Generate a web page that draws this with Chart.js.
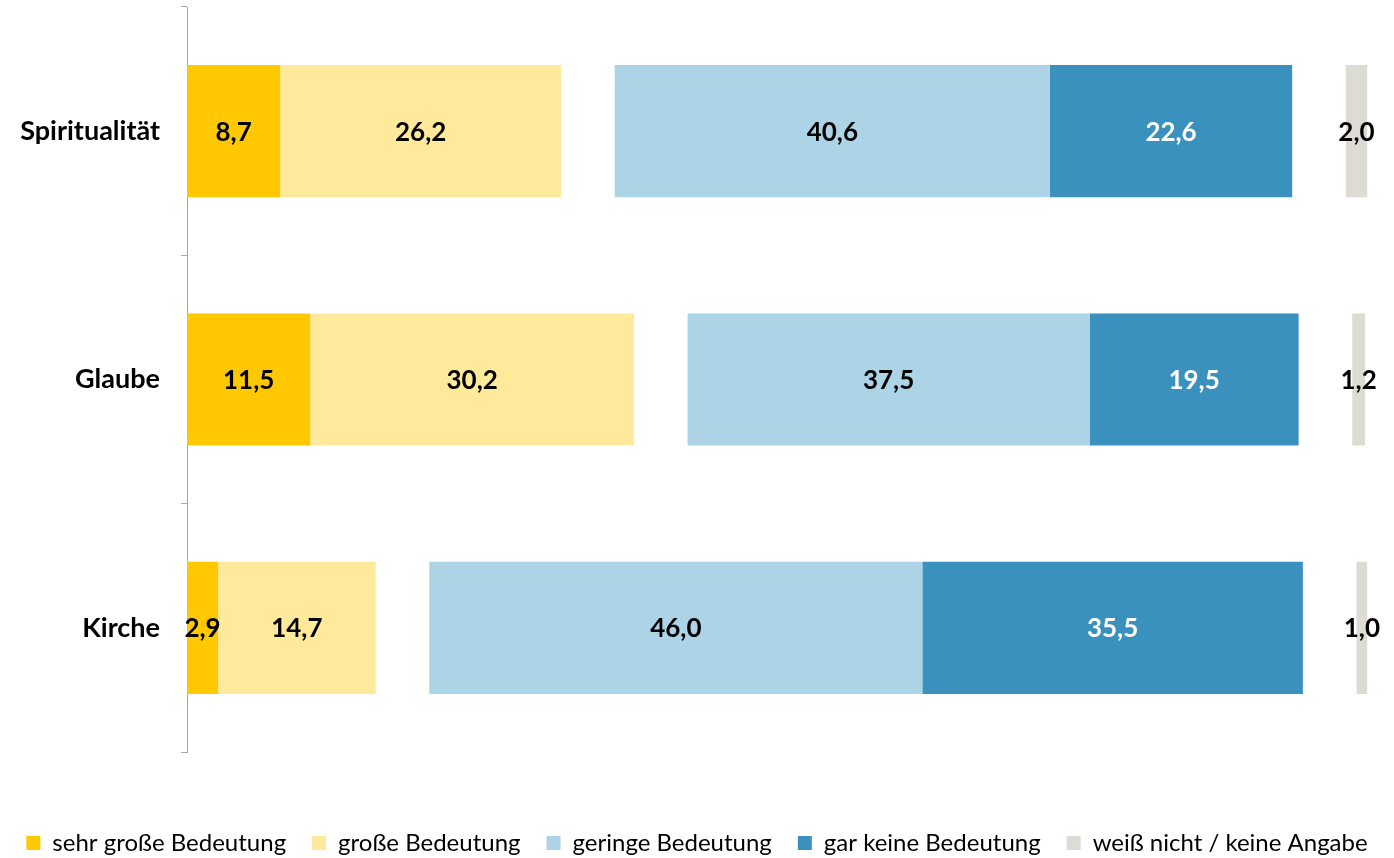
<!DOCTYPE html>
<html lang="de">
<head>
<meta charset="UTF-8">
<title>Bedeutung</title>
<style>
  html, body { margin: 0; padding: 0; background: #fff; }
</style>
</head>
<body>
<canvas id="chart" width="1394" height="858"></canvas>
<script src="https://cdn.jsdelivr.net/npm/chart.js"></script>
<script>
const categories = ['Spiritualität', 'Glaube', 'Kirche'];
const sehrGross = [8.7, 11.5, 2.9];
const gross = [26.2, 30.2, 14.7];
const gap = [5, 5, 5];
const gering = [40.6, 37.5, 46.0];
const garKeine = [22.6, 19.5, 35.5];
const weissNicht = [2.0, 1.2, 1.0];

const FONT = 'Lato, "Noto Sans", sans-serif';

// draws the values in the middle of each bar
const barLabels = {
  id: 'barLabels',
  afterDatasetsDraw(chart) {
    const c = chart.ctx;
    c.save();
    c.font = 'bold 26px ' + FONT;
    c.textAlign = 'center';
    c.textBaseline = 'middle';
    chart.data.datasets.forEach((ds, i) => {
      if (!ds.label) return;
      chart.getDatasetMeta(i).data.forEach((bar, j) => {
        c.fillStyle = ds.labelColor;
        c.fillText(ds.data[j].toFixed(1).replace('.', ','), (bar.x + bar.base) / 2, bar.y + 1);
      });
    });
    c.restore();
  }
};

// fixed legend height so it sits at the bottom
const legendHeight = {
  id: 'legendHeight',
  beforeInit(chart) {
    const fit = chart.legend.fit;
    chart.legend.fit = function () {
      fit.call(this);
      this.height = 53;
    };
  }
};

new Chart(document.getElementById('chart'), {
  type: 'bar',
  data: {
    labels: categories,
    datasets: [
      { label: 'sehr große Bedeutung', data: sehrGross, backgroundColor: '#FFC800', labelColor: '#000' },
      { label: 'große Bedeutung', data: gross, backgroundColor: '#FFE99B', labelColor: '#000' },
      { label: '', data: gap, backgroundColor: 'rgba(0,0,0,0)' },
      { label: 'geringe Bedeutung', data: gering, backgroundColor: '#ACD4E6', labelColor: '#000' },
      { label: 'gar keine Bedeutung', data: garKeine, backgroundColor: '#3A91BD', labelColor: '#fff' },
      { label: '', data: gap, backgroundColor: 'rgba(0,0,0,0)' },
      { label: 'weiß nicht / keine Angabe', data: weissNicht, backgroundColor: '#DEDBD4', labelColor: '#000' }
    ]
  },
  options: {
    indexAxis: 'y',
    responsive: false,
    devicePixelRatio: 1,
    animation: false,
    layout: { padding: { top: 7, left: 0, right: 0, bottom: 0 } },
    datasets: { bar: { categoryPercentage: 1, barPercentage: 0.532, borderWidth: 0 } },
    scales: {
      x: {
        stacked: true,
        min: 0,
        max: 112.6,
        ticks: { display: false },
        grid: { display: false },
        border: { display: false },
        afterFit(scale) { scale.height = 53; }
      },
      y: {
        stacked: true,
        ticks: { color: '#000', font: { family: FONT, size: 27, weight: 'bold' }, padding: 21 },
        grid: { drawOnChartArea: false, color: '#A6A6A6', tickLength: 6, offset: true },
        border: { color: '#A6A6A6', width: 1 },
        afterFit(scale) {
          scale.width = 187;
          scale.paddingTop = 0;
          scale.paddingBottom = 0;
        }
      }
    },
    plugins: {
      tooltip: { enabled: false },
      legend: {
        position: 'bottom',
        labels: {
          color: '#000',
          font: { family: FONT, size: 24 },
          boxWidth: 14,
          boxHeight: 14,
          padding: 26,
          filter: item => item.text !== ''
        }
      }
    }
  },
  plugins: [barLabels, legendHeight]
});
</script>
</body>
</html>
